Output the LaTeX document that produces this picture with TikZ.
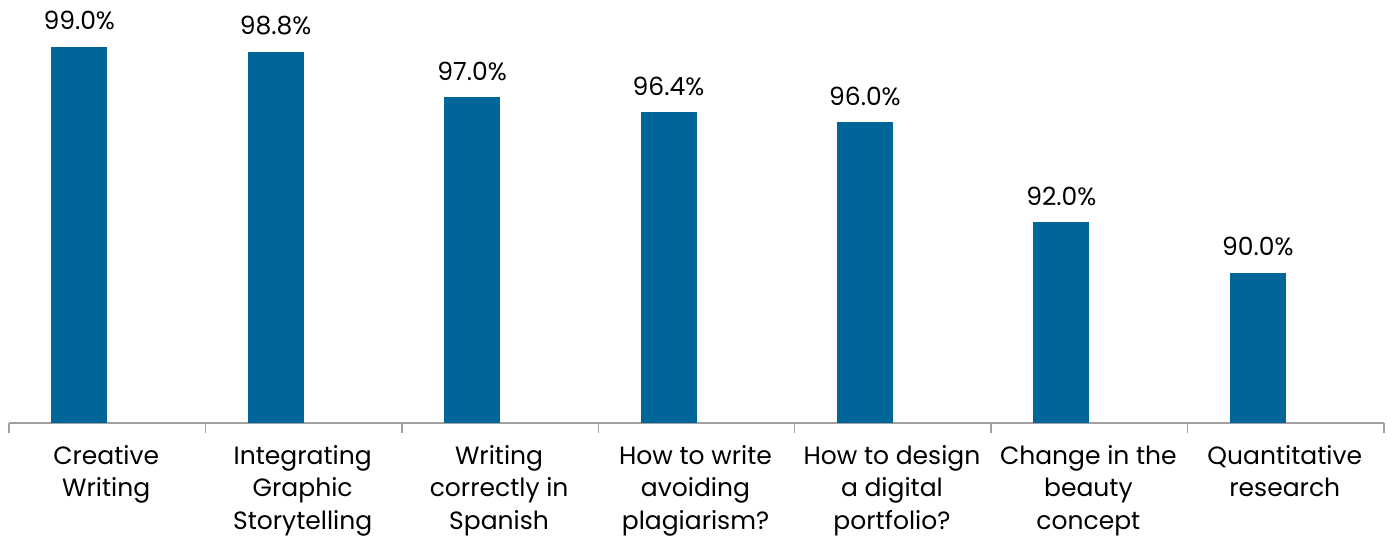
\documentclass[tikz,border=0pt]{standalone}
\usepackage{fontspec}
\setmainfont{Poppins}
\definecolor{barblue}{RGB}{0,102,153}
\definecolor{axisgray}{RGB}{160,160,160}
\begin{document}
\begin{tikzpicture}[x=1pt,y=-1pt,
  bar/.style={fill=barblue,draw=none},
  vlabel/.style={font=\fontsize{25}{30}\selectfont,text=black,anchor=base,inner sep=0pt},
  clabel/.style={font=\fontsize{25}{32.5}\selectfont,text=black,anchor=north,align=center,inner sep=0pt},
  axisline/.style={draw=axisgray,line width=1.5pt}]
\useasboundingbox (0,0) rectangle (1395,537);
\def\base{423}
\def\cw{196.43}
% axis
\draw[axisline] (9,\base) coordinate (axl) -- (1384,\base) coordinate (axr);
\foreach \i in {0,...,7} {
  \draw[axisline] ({9+\i*\cw},\base) -- ({9+\i*\cw},433);
}
% bars: value -> top y = 423 - (v-84)*25.07
\foreach \v/\lab/\cat [count=\i from 0] in {
  99.0/99.0\%/{Creative\\Writing},
  98.8/98.8\%/{Integrating\\Graphic\\Storytelling},
  97.0/97.0\%/{Writing\\correctly in\\Spanish},
  96.4/96.4\%/{How to write\\avoiding\\plagiarism?},
  96.0/96.0\%/{How to design\\a digital\\portfolio?},
  92.0/92.0\%/{Change in the\\beauty\\concept},
  90.0/90.0\%/{Quantitative\\research}} {
  \pgfmathsetmacro{\cx}{9+(\i+0.5)*\cw}
  \pgfmathsetmacro{\ty}{\base-(\v-84)*25.07}
  \path[bar] ({\cx-56},\base) rectangle ({\cx},\ty);
  \node[vlabel] (v\i) at ({\cx-28},{\ty-17}) {\lab};
  \node[clabel] (c\i) at ({\cx-1},445) {\cat};
}
\end{tikzpicture}
\end{document}
